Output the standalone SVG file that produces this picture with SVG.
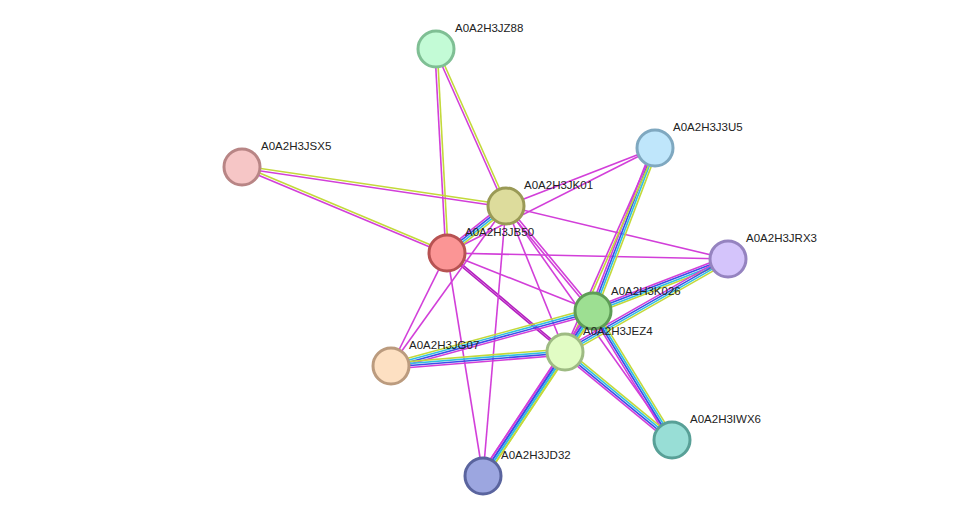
<svg xmlns="http://www.w3.org/2000/svg" width="975" height="522" viewBox="0 0 975 522">
<style>
line{stroke-width:1.6;fill:none}
.m{stroke:#d23fd9}.y{stroke:#c3d93a}.c{stroke:#2fbfe0}.b{stroke:#3b4fe8}.d{stroke:#b51fc0}
circle{stroke-width:3}
text{font-family:"Liberation Sans",Arial,sans-serif;font-size:11.5px;fill:#222}
</style>
<rect width="975" height="522" fill="#fff"/>
<g id="edges">
<line class="y" x1="436" y1="49" x2="447" y2="253" transform="translate(1.2,0)"/>
<line class="m" x1="436" y1="49" x2="447" y2="253" transform="translate(-1.2,0)"/>
<line class="y" x1="436" y1="49" x2="506" y2="206" transform="translate(1.1,-0.5)"/>
<line class="m" x1="436" y1="49" x2="506" y2="206" transform="translate(-1.1,0.5)"/>
<line class="y" x1="242" y1="167" x2="506" y2="206" transform="translate(0.2,-1.2)"/>
<line class="m" x1="242" y1="167" x2="506" y2="206" transform="translate(-0.2,1.2)"/>
<line class="y" x1="242" y1="167" x2="447" y2="253" transform="translate(0.5,-1.1)"/>
<line class="m" x1="242" y1="167" x2="447" y2="253" transform="translate(-0.5,1.1)"/>
<line class="m" x1="655" y1="148" x2="506" y2="206"/>
<line class="m" x1="655" y1="148" x2="447" y2="253"/>
<line class="m" x1="506" y1="206" x2="728" y2="259"/>
<line class="m" x1="447" y1="253" x2="728" y2="259"/>
<line class="m" x1="447" y1="253" x2="593" y2="311"/>
<line class="d" x1="447" y1="253" x2="565" y2="352" transform="translate(0.6,-0.7)"/>
<line class="d" x1="447" y1="253" x2="565" y2="352" transform="translate(-0.6,0.7)"/>
<line class="m" x1="506" y1="206" x2="593" y2="311" transform="translate(1,-0.8)"/>
<line class="m" x1="506" y1="206" x2="593" y2="311" transform="translate(-1,0.8)"/>
<line class="m" x1="506" y1="206" x2="565" y2="352"/>
<line class="m" x1="506" y1="206" x2="672" y2="440"/>
<line class="m" x1="506" y1="206" x2="391" y2="366"/>
<line class="m" x1="447" y1="253" x2="391" y2="366"/>
<line class="m" x1="506" y1="206" x2="483" y2="476"/>
<line class="m" x1="447" y1="253" x2="483" y2="476"/>
<!-- JK01-JB50 -->
<line class="y" x1="506" y1="206" x2="447" y2="253" transform="translate(1.9,2.4)"/>
<line class="c" x1="506" y1="206" x2="447" y2="253" transform="translate(0.6,0.8)"/>
<line class="b" x1="506" y1="206" x2="447" y2="253" transform="translate(-0.6,-0.8)"/>
<line class="m" x1="506" y1="206" x2="447" y2="253" transform="translate(-1.9,-2.4)"/>
<!-- J3U5-K026 -->
<line class="y" x1="655" y1="148" x2="593" y2="311" transform="translate(2.8,1.1)"/>
<line class="c" x1="655" y1="148" x2="593" y2="311" transform="translate(0.9,0.4)"/>
<line class="b" x1="655" y1="148" x2="593" y2="311" transform="translate(-0.9,-0.4)"/>
<line class="m" x1="655" y1="148" x2="593" y2="311" transform="translate(-2.8,-1.1)"/>
<line class="y" x1="655" y1="148" x2="565" y2="352" transform="translate(1,0.4)"/>
<line class="m" x1="655" y1="148" x2="565" y2="352" transform="translate(-1,-0.4)"/>
<!-- JRX3-K026 -->
<line class="y" x1="728" y1="259" x2="593" y2="311" transform="translate(1.1,2.8)"/>
<line class="c" x1="728" y1="259" x2="593" y2="311" transform="translate(0.4,0.9)"/>
<line class="b" x1="728" y1="259" x2="593" y2="311" transform="translate(-0.4,-0.9)"/>
<line class="m" x1="728" y1="259" x2="593" y2="311" transform="translate(-1.1,-2.8)"/>
<line class="y" x1="728" y1="259" x2="565" y2="352" transform="translate(1.5,2.6)"/>
<line class="c" x1="728" y1="259" x2="565" y2="352" transform="translate(0.5,0.9)"/>
<line class="b" x1="728" y1="259" x2="565" y2="352" transform="translate(-0.5,-0.9)"/>
<line class="m" x1="728" y1="259" x2="565" y2="352" transform="translate(-1.5,-2.6)"/>
<!-- JG07-K026 -->
<line class="y" x1="391" y1="366" x2="593" y2="311" transform="translate(-0.8,-2.9)"/>
<line class="c" x1="391" y1="366" x2="593" y2="311" transform="translate(-0.3,-1)"/>
<line class="b" x1="391" y1="366" x2="593" y2="311" transform="translate(0.3,1)"/>
<line class="m" x1="391" y1="366" x2="593" y2="311" transform="translate(0.8,2.9)"/>
<line class="y" x1="391" y1="366" x2="565" y2="352" transform="translate(-0.2,-3)"/>
<line class="c" x1="391" y1="366" x2="565" y2="352" transform="translate(-0.1,-1)"/>
<line class="b" x1="391" y1="366" x2="565" y2="352" transform="translate(0.1,1)"/>
<line class="m" x1="391" y1="366" x2="565" y2="352" transform="translate(0.2,3)"/>
<!-- K026-JEZ4 -->
<line class="y" x1="593" y1="311" x2="565" y2="352" transform="translate(2.5,1.7)"/>
<line class="c" x1="593" y1="311" x2="565" y2="352" transform="translate(0.8,0.6)"/>
<line class="b" x1="593" y1="311" x2="565" y2="352" transform="translate(-0.8,-0.6)"/>
<line class="m" x1="593" y1="311" x2="565" y2="352" transform="translate(-2.5,-1.7)"/>
<!-- K026-IWX6 -->
<line class="y" x1="593" y1="311" x2="672" y2="440" transform="translate(2.5,-1.6)"/>
<line class="c" x1="593" y1="311" x2="672" y2="440" transform="translate(0.85,-0.5)"/>
<line class="b" x1="593" y1="311" x2="672" y2="440" transform="translate(-0.85,0.5)"/>
<line class="m" x1="593" y1="311" x2="672" y2="440" transform="translate(-2.5,1.6)"/>
<line class="y" x1="565" y1="352" x2="672" y2="440" transform="translate(1.9,-2.3)"/>
<line class="c" x1="565" y1="352" x2="672" y2="440" transform="translate(0.6,-0.8)"/>
<line class="b" x1="565" y1="352" x2="672" y2="440" transform="translate(-0.6,0.8)"/>
<line class="m" x1="565" y1="352" x2="672" y2="440" transform="translate(-1.9,2.3)"/>
<!-- to JD32 -->
<line class="y" x1="593" y1="311" x2="483" y2="476" transform="translate(2.5,1.7)"/>
<line class="c" x1="593" y1="311" x2="483" y2="476" transform="translate(0.8,0.6)"/>
<line class="b" x1="593" y1="311" x2="483" y2="476" transform="translate(-0.8,-0.6)"/>
<line class="m" x1="593" y1="311" x2="483" y2="476" transform="translate(-2.5,-1.7)"/>
<line class="y" x1="565" y1="352" x2="483" y2="476" transform="translate(2.5,1.7)"/>
<line class="c" x1="565" y1="352" x2="483" y2="476" transform="translate(0.8,0.6)"/>
<line class="b" x1="565" y1="352" x2="483" y2="476" transform="translate(-0.8,-0.6)"/>
<line class="m" x1="565" y1="352" x2="483" y2="476" transform="translate(-2.5,-1.7)"/>
</g>
<g id="JZ88"><circle cx="436" cy="49" r="18" fill="#c3fbd6" stroke="#7fbf94"/><text x="455" y="32">A0A2H3JZ88</text></g>
<g id="J3U5"><circle cx="655" cy="148" r="18" fill="#bfe6fb" stroke="#7fa8c0"/><text x="673" y="131">A0A2H3J3U5</text></g>
<g id="JSX5"><circle cx="242" cy="167" r="18" fill="#f6c6c6" stroke="#b88585"/><text x="261" y="150">A0A2H3JSX5</text></g>
<g id="JK01"><circle cx="506" cy="206" r="18" fill="#dddc9c" stroke="#9a9a56"/><text x="524" y="189">A0A2H3JK01</text></g>
<g id="JB50"><circle cx="447" cy="253" r="18" fill="#fb9595" stroke="#b75252"/><text x="465" y="236">A0A2H3JB50</text></g>
<g id="JRX3"><circle cx="728" cy="259" r="18" fill="#d4c4fb" stroke="#9583c0"/><text x="746" y="242">A0A2H3JRX3</text></g>
<g id="K026"><circle cx="593" cy="311" r="18" fill="#9ddf92" stroke="#5e9d56"/><text x="611" y="295">A0A2H3K026</text></g>
<g id="JEZ4"><circle cx="565" cy="352" r="18" fill="#e1fcc4" stroke="#9ebb83"/><text x="583" y="335">A0A2H3JEZ4</text></g>
<g id="JG07"><circle cx="391" cy="366" r="18" fill="#fde0c2" stroke="#bb9b7e"/><text x="409" y="349">A0A2H3JG07</text></g>
<g id="IWX6"><circle cx="672" cy="440" r="18" fill="#98ded6" stroke="#58a097"/><text x="690" y="423">A0A2H3IWX6</text></g>
<g id="JD32"><circle cx="483" cy="476" r="18" fill="#9ca6e0" stroke="#5a649e"/><text x="501" y="459">A0A2H3JD32</text></g>
</svg>
